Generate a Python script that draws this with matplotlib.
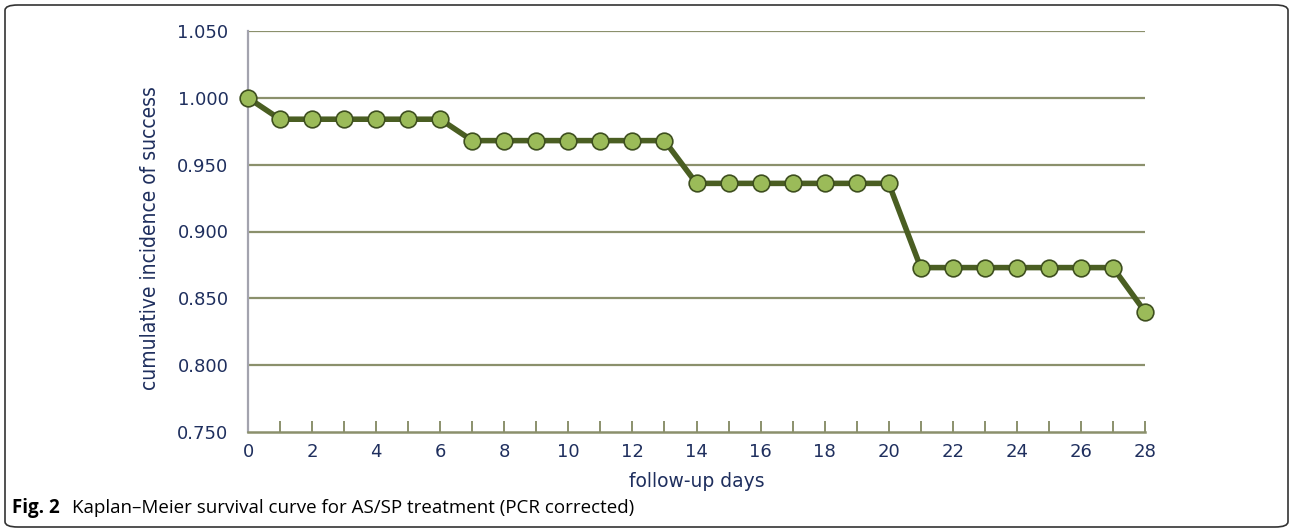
import matplotlib.pyplot as plt
from matplotlib.patches import FancyBboxPatch

# follow-up days and cumulative incidence of success
days = list(range(0, 29))
success = [1.000] + [0.984] * 6 + [0.968] * 7 + [0.936] * 7 + [0.873] * 7 + [0.840]
y_ticks = [0.750, 0.800, 0.850, 0.900, 0.950, 1.000, 1.050]
x_labels = [str(d) if d % 2 == 0 else '' for d in days]

navy = '#1f2f5e'
grid_col = '#8b906c'

fig = plt.figure(figsize=(12.9, 5.28), dpi=100)
ax = fig.add_axes([248 / 1290, 1 - 432 / 528, (1145 - 248) / 1290, (432 - 31) / 528])

# horizontal gridlines
for yv in y_ticks[1:]:
    ax.axhline(yv, color=grid_col, lw=1.6, zorder=1)

ax.plot(days, success, color='#4a5e22', lw=4, marker='o', markersize=12,
        markerfacecolor='#9bbb59', markeredgecolor='#3e4f1f', markeredgewidth=1.2,
        zorder=3, clip_on=False)

ax.set_xlim(0, 28)
ax.set_ylim(0.750, 1.050)
ax.set_yticks(y_ticks)
ax.set_yticklabels(['%.3f' % v for v in y_ticks])
ax.set_xticks(days)
ax.set_xticklabels(x_labels)

for s in ['top', 'right']:
    ax.spines[s].set_visible(False)
ax.spines['left'].set_color('#a3a3ae')
ax.spines['left'].set_linewidth(1.6)
ax.spines['bottom'].set_color(grid_col)
ax.spines['bottom'].set_linewidth(1.8)

ax.tick_params(axis='y', length=0, pad=14, labelsize=13, labelcolor=navy)
ax.tick_params(axis='x', direction='in', length=8, width=1.4, color=grid_col,
               pad=8, labelsize=13, labelcolor=navy)

ax.set_xlabel('follow-up days', fontsize=13.5, color=navy, labelpad=8)
fig.text(150 / 1290, 1 - 238 / 528, 'cumulative incidence of success',
         rotation=90, ha='center', va='center', fontsize=15, color=navy,
         family='DejaVu Sans', stretch='condensed')

# caption
fig.text(12 / 1290, 1 - 508 / 528, 'Fig. 2', fontsize=13.5, fontweight='bold',
         family='Open Sans', va='center')
fig.text(72 / 1290, 1 - 508 / 528,
         'Kaplan\u2013Meier survival curve for AS/SP treatment (PCR corrected)',
         fontsize=13.5, family='Open Sans', va='center')

# rounded frame around the figure
frame = FancyBboxPatch((5 / 1290, 1 / 528), 1283 / 1290, 522 / 528,
                       boxstyle='round,pad=0,rounding_size=0.01',
                       transform=fig.transFigure, fill=False,
                       edgecolor='#333333', lw=1.2)
fig.patches.append(frame)

fig.savefig('out.png', dpi=100)
